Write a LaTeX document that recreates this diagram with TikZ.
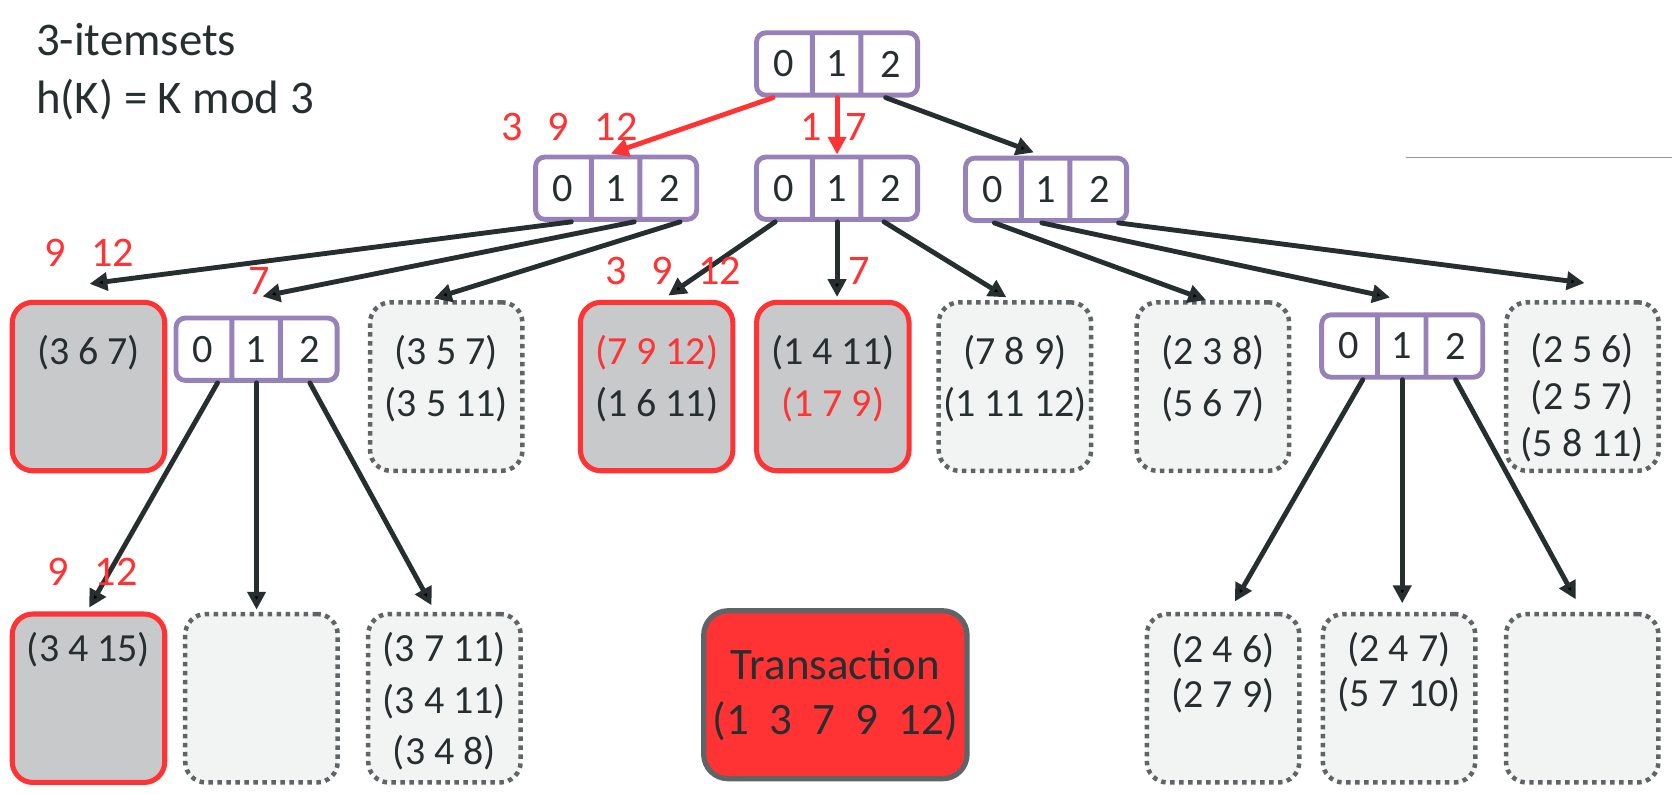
\documentclass[tikz,border=0pt]{standalone}
\usepackage{fontspec}
\setmainfont{Carlito}
\usepackage{tikz}
\usetikzlibrary{arrows.meta,calc,shapes.multipart}
\definecolor{ink}{RGB}{38,46,48}
\definecolor{hashpurple}{RGB}{150,130,185}
\definecolor{hitred}{RGB}{255,51,51}
\definecolor{hitgray}{RGB}{200,201,203}
\definecolor{palegray}{RGB}{242,243,243}
\definecolor{dotgray}{RGB}{95,100,102}
\definecolor{rulegray}{RGB}{150,150,150}

\begin{document}
\begin{tikzpicture}[x=0.02cm,y=-0.02cm,line cap=round,line join=round,
    hashnode/.style={rectangle split,rectangle split horizontal,rectangle split parts=3,
        draw=hashpurple,fill=white,line width=2.6pt,rounded corners=5pt,
        inner xsep=0pt,inner ysep=9.6pt,text=ink,font=\fontsize{21.5}{26}\selectfont},
    hitbox/.style={draw=hitred,fill=hitgray,line width=2.7pt,rounded corners=11pt,
        minimum width=2.86cm,minimum height=3.16cm},
    emptybox/.style={draw=dotgray,fill=palegray,line width=2.4pt,line cap=butt,
        dash pattern=on 2.4pt off 2.4pt,rounded corners=11pt,
        minimum width=2.86cm,minimum height=3.16cm},
    txbox/.style={draw=dotgray,fill=hitred,line width=2.8pt,rounded corners=13pt,
        minimum width=4.94cm,minimum height=3.15cm,align=center,text=ink,
        font=\fontsize{24}{29.4}\selectfont},
    tuples/.style={anchor=north,align=center,inner sep=0pt,text=ink,
        font=\fontsize{21.3}{27.6}\selectfont},
    hits/.style={anchor=base,inner sep=0pt,text=hitred,font=\fontsize{22.5}{27}\selectfont},
    title/.style={anchor=base west,inner sep=0pt,text=ink,font=\fontsize{25}{30}\selectfont},
    arr/.style={draw=ink,line width=2.6pt,-{Triangle[length=9.5pt,width=9.5pt]}},
    redarr/.style={arr,draw=hitred}]
\useasboundingbox (0,0) rectangle (1568,744);

% title
\node[title] (itemsets) at (33.5,51.6) {3-itemsets};
\node[title] (hashfn) at (33.5,106) {h(K) = K mod 3};
\draw [rulegray,line width=0.6pt] (1319,147.5)-- (1568,147.5);

% hash tree: interior nodes
\node[hashnode] (root) at (785,60) {\makebox[28.5pt]{0}\nodepart{two}\makebox[23.3pt]{1}\nodepart{three}\makebox[29pt]{2}};
\node[hashnode] (hl) at (577.8,176.5) {\makebox[28.5pt]{0}\nodepart{two}\makebox[23.3pt]{1}\nodepart{three}\makebox[29pt]{2}};
\node[hashnode] (hm) at (785,176.5) {\makebox[28.5pt]{0}\nodepart{two}\makebox[23.3pt]{1}\nodepart{three}\makebox[29pt]{2}};
\node[hashnode] (hr) at (981,177.5) {\makebox[28.5pt]{0}\nodepart{two}\makebox[23.3pt]{1}\nodepart{three}\makebox[29pt]{2}};
\node[hashnode] (hlm) at (240.6,327.5) {\makebox[28.5pt]{0}\nodepart{two}\makebox[23.3pt]{1}\nodepart{three}\makebox[29pt]{2}};
\node[hashnode] (hrm) at (1315,324.5) {\makebox[28.5pt]{0}\nodepart{two}\makebox[23.3pt]{1}\nodepart{three}\makebox[29pt]{2}};

% leaves, second level
\node[hitbox] (b367) at (83,362.5) {};
\node[emptybox] (b357) at (418.5,362.5) {};
\node[hitbox] (b7912) at (615.8,362.5) {};
\node[hitbox] (b1411) at (781,362.5) {};
\node[emptybox] (b789) at (951.8,362.5) {};
\node[emptybox] (b238) at (1137.5,362.5) {};
\node[emptybox] (b256) at (1484,362.5) {};
% leaves, third level
\node[hitbox] (b3415) at (83,654.8) {};
\node[emptybox] (bnone) at (245.2,654.8) {};
\node[emptybox] (b3711) at (416.8,654.8) {};
\node[emptybox] (b246) at (1147,654.8) {};
\node[emptybox] (b247) at (1312,654.8) {};
\node[emptybox] (bvoid) at (1483.8,654.8) {};

% itemsets in the leaves
\node[tuples] (t367) at (83,314.3) {(3 6 7)};
\node[tuples] (t357) at (418.5,314.3) {(3 5 7)\\(3 5 11)};
\node[tuples] (t7912) at (615.8,314.3) {\textcolor{hitred}{(7 9 12)}\\(1 6 11)};
\node[tuples] (t1411) at (781,314.3) {(1 4 11)\\\textcolor{hitred}{(1 7 9)}};
\node[tuples] (t789) at (951.8,314.3) {(7 8 9)\\(1 11 12)};
\node[tuples] (t238) at (1137.5,314.3) {(2 3 8)\\(5 6 7)};
\node[tuples,font=\fontsize{21.3}{25}\selectfont] (t256) at (1484,312.5) {(2 5 6)\\(2 5 7)\\(5 8 11)};
\node[tuples] (t3415) at (83,592.5) {(3 4 15)};
\node[tuples] (t3711) at (416.8,592.5) {(3 7 11)\\(3 4 11)\\(3 4 8)};
\node[tuples,font=\fontsize{21.3}{23.9}\selectfont] (t246) at (1147,594) {(2 4 6)\\(2 7 9)};
\node[tuples,font=\fontsize{21.3}{23.9}\selectfont] (t247) at (1312,592.5) {(2 4 7)\\(5 7 10)};

\node[txbox] (trans) at (783.4,651.5) {Transaction\\(1~~3~~7~~9~~12)};

% hashing the transaction
\draw [redarr] ($(root.south)+(-60,0)$)-- ($(hl.north)+(-5,-1)$);
\draw [redarr] (root.south)-- (hm.north);
\draw [arr] ($(root.south)+(45.5,0)$)-- ($(hr.north)+(-11.5,-3)$);
\draw [arr] ($(hl.south)+(-42,0)$)-- ($(b367.north)+(1,-15)$);
\draw [arr] ($(hl.south)+(17,0)$)-- ($(hlm.north)+(5.5,-18)$);
\draw [arr] ($(hl.south)+(60,0)$)-- ($(b357.north)+(-11.5,-1.5)$);
\draw [arr] ($(hm.south)+(-58,0)$)-- ($(b7912.north)+(11,-4)$);
\draw [arr] (hm.south)-- ($(b1411.north)+(4,-2.6)$);
\draw [arr] ($(hm.south)+(44,0)$)-- ($(b789.north)+(-8,-2.6)$);
\draw [arr] ($(hr.south)+(-48.5,0)$)-- ($(b238.north)+(-6.5,0)$);
\draw [arr] ($(hr.south)+(-4,0)$)-- ($(hrm.north)+(-11.4,-14)$);
\draw [arr] ($(hr.south)+(68,0)$)-- ($(b256.north)+(2,-16)$);
\draw [arr] ($(hlm.south)+(-36.6,0)$)-- ($(b3415.north)+(0.6,-3.6)$);
\draw [arr] (hlm.south)-- ($(bnone.north)+(-4.6,-2)$);
\draw [arr] ($(hlm.south)+(50,0)$)-- ($(b3711.north)+(-12,-6)$);
\draw [arr] ($(hrm.south)+(-37,0)$)-- ($(b246.north)+(11,-9.6)$);
\draw [arr] (hrm.south)-- ($(b247.north)+(3,-8)$);
\draw [arr] ($(hrm.south)+(50,0)$)-- ($(bvoid.north)+(-6,-11.6)$);

% items that reach each node
\node[hits] (h1) at (534,131.3) {3\hspace{13pt}9\hspace{14pt}12};
\node[hits] (h2) at (782,131.3) {1\hspace{12.4pt}7};
\node[hits] (h3) at (83.8,250) {9\hspace{13.4pt}12};
\node[hits] (h4) at (243,276.6) {7};
\node[hits] (h5) at (631.6,267) {3\hspace{12.9pt}9\hspace{13.6pt}12};
\node[hits] (h6) at (805.3,267) {7};
\node[hits] (h7) at (87,549) {9\hspace{13.7pt}12};
\end{tikzpicture}
\end{document}
